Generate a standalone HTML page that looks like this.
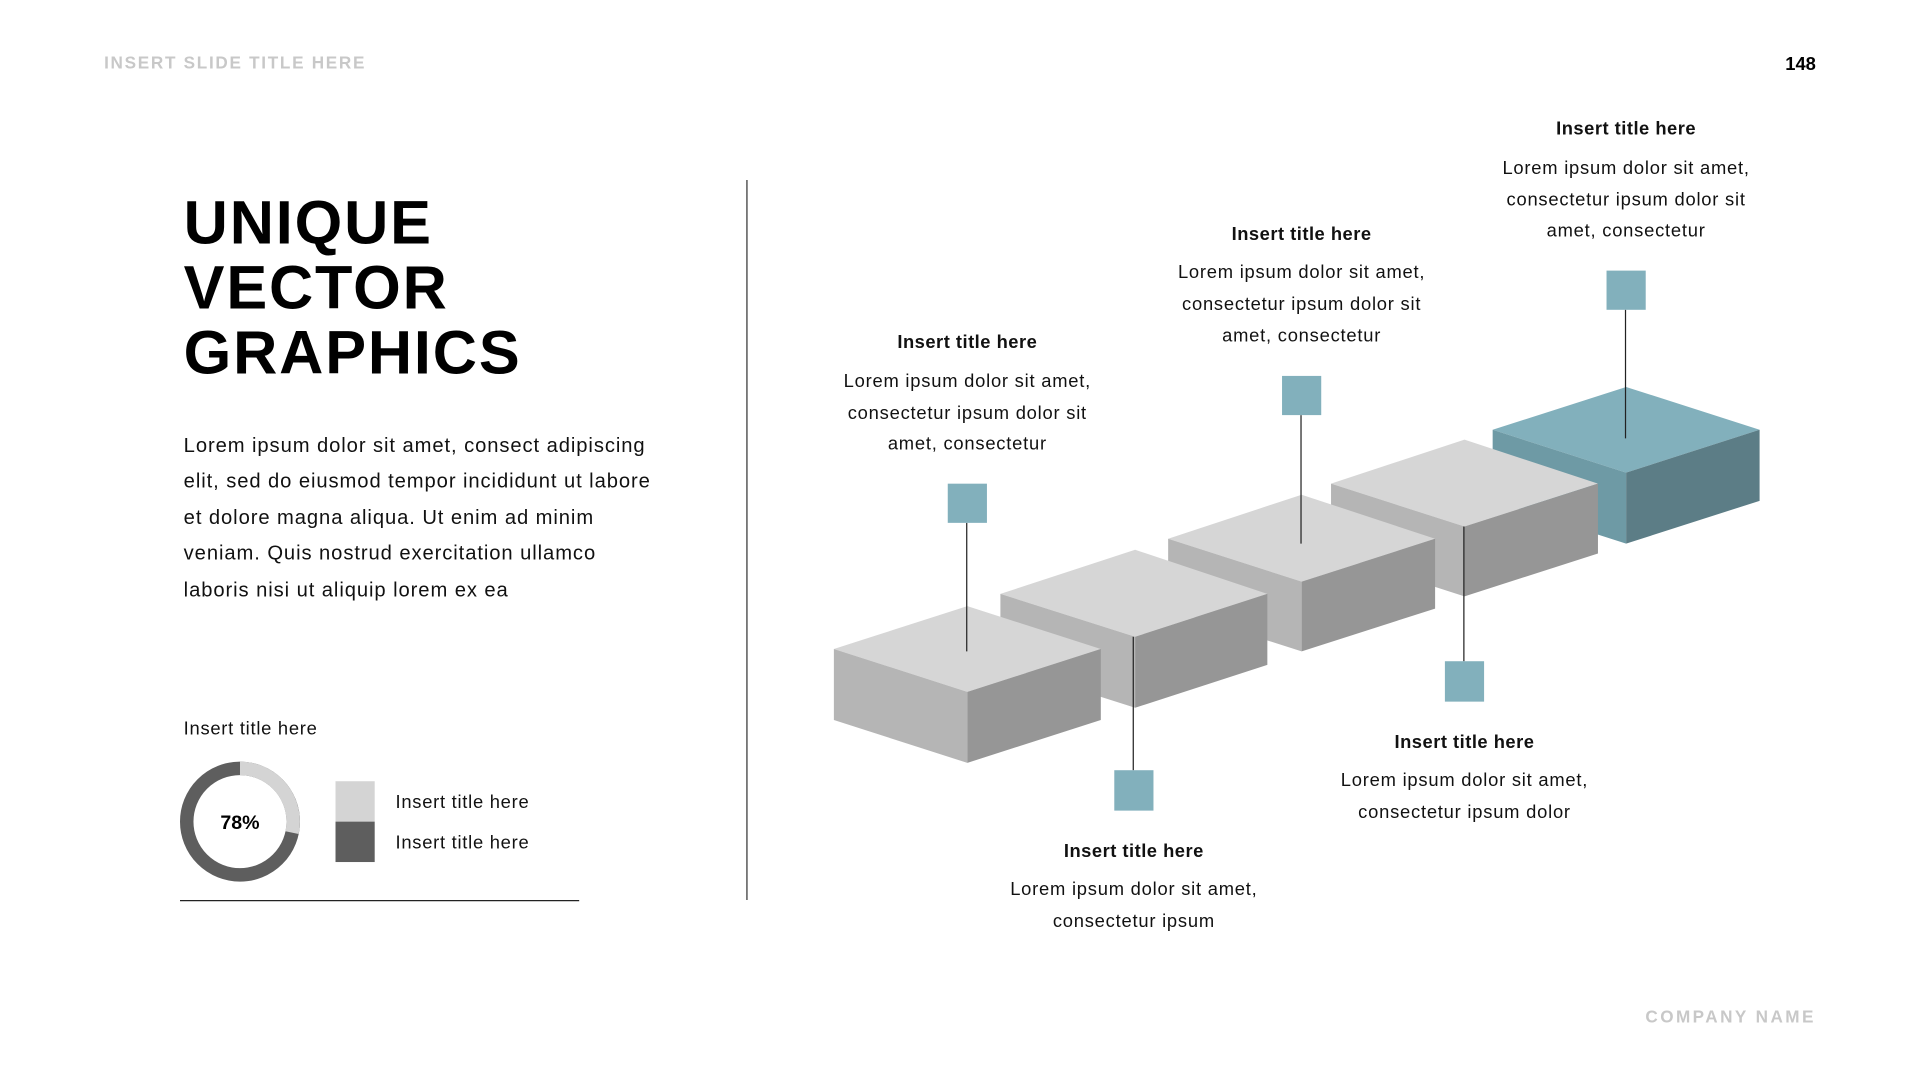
<!DOCTYPE html>
<html><head><meta charset="utf-8"><style>html,body{margin:0;padding:0;background:#fff}svg{display:block}</style></head>
<body>
<svg width="1920" height="1080" viewBox="0 0 1568 882" xmlns="http://www.w3.org/2000/svg" font-family="Liberation Sans, sans-serif">
<rect width="1568" height="882" fill="#fff"/>
<text x="85" y="56" font-size="14" font-weight="bold" fill="#c8c8c8" letter-spacing="1.4">INSERT SLIDE TITLE HERE</text>
<text x="1483" y="57" font-size="15" font-weight="bold" fill="#000" text-anchor="end">148</text>
<text x="1483" y="835" font-size="14" font-weight="bold" fill="#c8c8c8" text-anchor="end" letter-spacing="2">COMPANY NAME</text>
<g font-size="50" font-weight="900" fill="#000" letter-spacing="1.5">
<text x="150" y="199">UNIQUE</text><text x="150" y="252">VECTOR</text><text x="150" y="305">GRAPHICS</text></g>
<g font-size="16.5" fill="#111" letter-spacing="0.75">
<text x="150" y="369">Lorem ipsum dolor sit amet, consect adipiscing</text>
<text x="150" y="398">elit, sed do eiusmod tempor incididunt ut labore</text>
<text x="150" y="428">et dolore magna aliqua. Ut enim ad minim</text>
<text x="150" y="457">veniam.  Quis nostrud exercitation ullamco</text>
<text x="150" y="487">laboris nisi ut aliquip lorem ex ea</text></g>
<line x1="610" y1="147" x2="610" y2="735" stroke="#333" stroke-width="1"/>
<text x="150" y="600" font-size="15" fill="#111" letter-spacing="0.6">Insert title here</text>
<circle cx="196" cy="671" r="43.5" fill="none" stroke="#5e5e5e" stroke-width="11"/>
<path d="M196 627.5 A43.5 43.5 0 0 1 238.5 680" fill="none" stroke="#d4d4d4" stroke-width="11"/>
<text x="196" y="677" font-size="16" font-weight="bold" text-anchor="middle">78%</text>
<rect x="274" y="638" width="32" height="33" fill="#d4d4d4"/>
<rect x="274" y="671" width="32" height="33" fill="#5e5e5e"/>
<text x="323" y="660" font-size="15" fill="#111" letter-spacing="0.6">Insert title here</text>
<text x="323" y="693" font-size="15" fill="#111" letter-spacing="0.6">Insert title here</text>
<line x1="147" y1="735.5" x2="473" y2="735.5" stroke="#222" stroke-width="1"/>
<g id="cubes">
<polygon points="1219,351 1328,316 1437,351 1328,386" fill="#82b0bc"/>
<polygon points="1219,351 1328,386 1328,444 1219,409" fill="#6e9aa5"/>
<polygon points="1437,351 1328,386 1328,444 1437,409" fill="#5c7d86"/>
<polygon points="1087,395 1196,359 1305,395 1196,430" fill="#d6d6d6"/>
<polygon points="1087,395 1196,430 1196,487 1087,452" fill="#b5b5b5"/>
<polygon points="1305,395 1196,430 1196,487 1305,452" fill="#969696"/>
<polygon points="954,440 1063,404 1172,440 1063,475" fill="#d6d6d6"/>
<polygon points="954,440 1063,475 1063,532 954,497" fill="#b5b5b5"/>
<polygon points="1172,440 1063,475 1063,532 1172,497" fill="#969696"/>
<polygon points="817,485 927,449 1035,485 927,520" fill="#d6d6d6"/>
<polygon points="817,485 927,520 927,578 817,543" fill="#b5b5b5"/>
<polygon points="1035,485 927,520 927,578 1035,543" fill="#969696"/>
<polygon points="681,530 790,495 899,530 790,565" fill="#d6d6d6"/>
<polygon points="681,530 790,565 790,623 681,588" fill="#b5b5b5"/>
<polygon points="899,530 790,565 790,623 899,588" fill="#969696"/>
</g>
<g stroke="#222" stroke-width="1">
<line x1="789.5" y1="427" x2="789.5" y2="532"/>
<line x1="925.5" y1="520" x2="925.5" y2="629"/>
<line x1="1062.5" y1="339" x2="1062.5" y2="444"/>
<line x1="1195.5" y1="430" x2="1195.5" y2="540"/>
<line x1="1327.5" y1="253" x2="1327.5" y2="358"/>
</g>
<g fill="#82b0bc">
<rect x="774" y="395" width="32" height="32"/>
<rect x="910" y="629" width="32" height="33"/>
<rect x="1047" y="307" width="32" height="32"/>
<rect x="1180" y="540" width="32" height="33"/>
<rect x="1312" y="221" width="32" height="32"/>
</g>
<g text-anchor="middle" font-size="15" fill="#111" letter-spacing="0.63">
<g font-weight="bold" letter-spacing="0.4">
<text x="790" y="284">Insert title here</text>
<text x="926" y="700">Insert title here</text>
<text x="1063" y="196">Insert title here</text>
<text x="1196" y="611">Insert title here</text>
<text x="1328" y="110">Insert title here</text>
</g>
<text x="790" y="316">Lorem ipsum dolor sit amet,</text>
<text x="790" y="342">consectetur ipsum dolor sit</text>
<text x="790" y="367">amet, consectetur</text>
<text x="926" y="731">Lorem ipsum dolor sit amet,</text>
<text x="926" y="757">consectetur ipsum</text>
<text x="1063" y="227">Lorem ipsum dolor sit amet,</text>
<text x="1063" y="253">consectetur ipsum dolor sit</text>
<text x="1063" y="279">amet, consectetur</text>
<text x="1196" y="642">Lorem ipsum dolor sit amet,</text>
<text x="1196" y="668">consectetur ipsum dolor</text>
<text x="1328" y="142">Lorem ipsum dolor sit amet,</text>
<text x="1328" y="168">consectetur ipsum dolor sit</text>
<text x="1328" y="193">amet, consectetur</text>
</g>
</svg>
</body></html>
